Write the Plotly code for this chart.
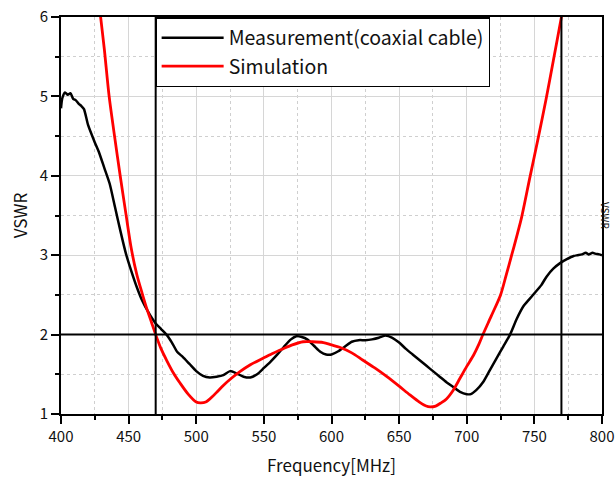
import plotly.graph_objects as go

# Measurement (coaxial cable)
meas_freq = [400, 401, 403, 405, 407, 409, 411, 413, 415, 417, 420, 425, 428, 432, 436, 440,
             444, 448, 452, 456, 460, 465, 470, 474, 478, 482, 486, 490, 495, 500, 505,
             510, 515, 520, 525, 530, 535, 540, 545, 550, 555, 560, 565, 570, 574, 578,
             582, 587, 592, 596, 600, 605, 610, 615, 620, 625, 630, 635, 640, 645, 650,
             655, 660, 665, 670, 675, 680, 685, 690, 695, 700, 703, 707, 712, 717, 722,
             727, 732, 737, 742, 746, 750, 755, 759, 764, 769, 774, 779, 782, 785, 788,
             790, 793, 795, 798, 800]
meas_vswr = [4.85, 4.98, 5.05, 5.02, 5.04, 4.97, 4.95, 4.91, 4.88, 4.84, 4.64, 4.42, 4.3, 4.1,
             3.9, 3.6, 3.3, 3.02, 2.8, 2.6, 2.43, 2.27, 2.14, 2.07, 2.0, 1.9, 1.78, 1.72, 1.63,
             1.54, 1.48, 1.46, 1.47, 1.49, 1.54, 1.51, 1.47, 1.46, 1.5, 1.58, 1.66, 1.75, 1.85,
             1.94, 1.98, 1.97, 1.94, 1.86, 1.78, 1.75, 1.75, 1.79, 1.85, 1.91, 1.93, 1.93, 1.94,
             1.96, 1.99, 1.96, 1.9, 1.82, 1.75, 1.68, 1.61, 1.54, 1.47, 1.4, 1.34, 1.28, 1.25,
             1.25, 1.3, 1.4, 1.55, 1.7, 1.85, 2.0, 2.2, 2.36, 2.44, 2.52, 2.62, 2.73, 2.83, 2.9,
             2.95, 2.99, 3.0, 3.01, 3.03, 3.01, 3.03, 3.02, 3.01, 3.0]

# Simulation
sim_freq = [425, 429.3, 432, 435.6, 440, 443.6, 448, 452, 456, 460, 463, 467, 470, 474, 478,
            483, 488, 494, 500, 503, 507, 512, 516, 520, 526, 532, 540, 549, 556, 564, 571,
            579, 586, 594, 600, 606, 615, 623, 632, 641, 650, 658, 665, 670, 673, 677, 681,
            685, 690, 695, 700, 705, 709, 712.2, 718, 725, 729, 733.2, 737, 740.6, 746.8,
            753, 758.6, 764, 770, 774]
sim_vswr = [6.7, 6.0, 5.6, 5.0, 4.45, 4.02, 3.52, 3.08, 2.76, 2.52, 2.35, 2.15, 2.0, 1.82,
            1.68, 1.52, 1.39, 1.25, 1.15, 1.14, 1.15, 1.22, 1.29, 1.36, 1.45, 1.53, 1.62,
            1.70, 1.76, 1.82, 1.87, 1.91, 1.91, 1.90, 1.87, 1.84, 1.77, 1.68, 1.58, 1.47,
            1.35, 1.24, 1.15, 1.1, 1.09, 1.1, 1.14, 1.19, 1.3, 1.45, 1.6, 1.74, 1.88, 2.01,
            2.23, 2.5, 2.74, 3.0, 3.24, 3.48, 3.99, 4.49, 4.96, 5.45, 6.0, 6.4]

band_limits = [470, 770]
vswr_limit = [2]

x_ticks = [400, 450, 500, 550, 600, 650, 700, 750, 800]
y_ticks = [1, 2, 3, 4, 5, 6]

font = "Noto Sans CJK JP"

fig = go.Figure()
fig.add_trace(go.Scatter(x=meas_freq, y=meas_vswr, mode="lines",
                         name="Measurement(coaxial cable)",
                         line=dict(color="black", width=2.5, shape="spline", smoothing=0.6)))
fig.add_trace(go.Scatter(x=sim_freq, y=sim_vswr, mode="lines", name="Simulation",
                         line=dict(color="#ff0000", width=2.8, shape="spline", smoothing=0.8)))

for f in band_limits:
    fig.add_shape(type="line", xref="x", yref="paper", x0=f, x1=f, y0=0, y1=1,
                  line=dict(color="black", width=2))
for v in vswr_limit:
    fig.add_shape(type="line", xref="paper", yref="y", x0=0, x1=1, y0=v, y1=v,
                  line=dict(color="black", width=2))

axis_common = dict(
    showline=True, linecolor="black", linewidth=2, mirror=True,
    ticks="outside", ticklen=8, tickwidth=1.5, tickcolor="black",
    showgrid=True, gridcolor="#d6d6d6", gridwidth=1,
    zeroline=False, automargin=False,
    tickfont=dict(family=font, size=15, color="#111"),
)

fig.update_xaxes(range=[400, 800], tickvals=x_ticks,
                 minor=dict(dtick=25, ticks="outside", ticklen=4, tickcolor="black",
                            showgrid=True, gridcolor="#cfcfcf", griddash="dot"),
                 title=dict(text="Frequency[MHz]", font=dict(family=font, size=17, color="#111"),
                            standoff=15),
                 **axis_common)
fig.update_yaxes(range=[1, 6], tickvals=y_ticks,
                 minor=dict(dtick=0.5, ticks="outside", ticklen=4, tickcolor="black",
                            showgrid=True, gridcolor="#cfcfcf", griddash="dot"),
                 title=dict(text="VSWR", font=dict(family=font, size=17, color="#111"),
                            standoff=8),
                 **axis_common)

fig.add_annotation(text="VSWR", xref="paper", yref="paper", x=1.0, y=0.5,
                   xanchor="right", yanchor="middle", xshift=13, textangle=90,
                   showarrow=False, font=dict(family=font, size=10, color="#111"))

fig.update_layout(
    width=616, height=478,
    margin=dict(l=61, r=14, t=17, b=64, autoexpand=False),
    paper_bgcolor="white", plot_bgcolor="white",
    showlegend=True,
    legend=dict(x=0.174, y=1, xanchor="left", yanchor="top",
                bgcolor="white", bordercolor="black", borderwidth=1.5,
                font=dict(family=font, size=19.5, color="#111"),
                itemwidth=62, tracegroupgap=0),
)

fig.write_html("out.html", config={"displayModeBar": False},
               post_script="document.body.style.margin='0';")
